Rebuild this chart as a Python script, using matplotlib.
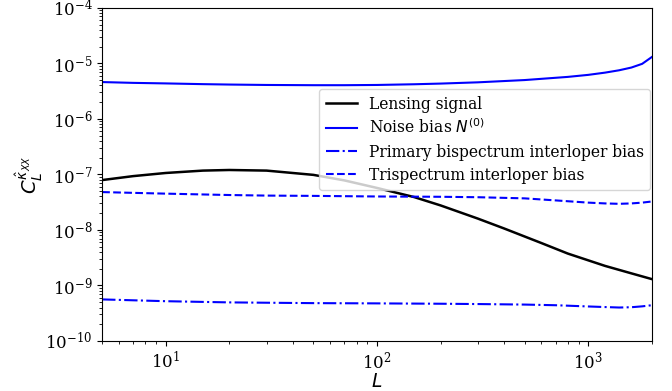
import matplotlib
matplotlib.use('Agg')
import matplotlib.pyplot as plt

plt.rcParams['font.family'] = 'DejaVu Serif'
plt.rcParams['mathtext.fontset'] = 'dejavusans'

# multipoles and spectra
L_noise = [5, 7, 10, 15, 20, 30, 50, 70, 100, 150, 200, 300, 500, 800, 1000, 1200, 1400, 1600, 1800, 2000]
noise = [4.6e-6, 4.45e-6, 4.35e-6, 4.22e-6, 4.15e-6, 4.08e-6, 4.04e-6, 4.04e-6, 4.08e-6, 4.2e-6, 4.32e-6,
         4.55e-6, 5.0e-6, 5.7e-6, 6.2e-6, 6.8e-6, 7.5e-6, 8.4e-6, 9.8e-6, 1.3e-5]

L_lens = [5, 7, 10, 15, 20, 30, 50, 70, 100, 150, 200, 300, 400, 600, 800, 1200, 1600, 2000]
lensing = [7.9e-8, 9.3e-8, 1.06e-7, 1.17e-7, 1.2e-7, 1.17e-7, 9.8e-8, 7.8e-8, 5.7e-8, 3.9e-8, 2.76e-8,
           1.6e-8, 1.06e-8, 5.8e-9, 3.75e-9, 2.25e-9, 1.65e-9, 1.3e-9]

L_bias = [5, 7, 10, 15, 20, 30, 50, 100, 200, 300, 500, 700, 1000, 1200, 1400, 1600, 1800, 2000]
bispec = [5.6e-10, 5.4e-10, 5.2e-10, 5.05e-10, 4.95e-10, 4.88e-10, 4.8e-10, 4.75e-10, 4.68e-10, 4.62e-10,
          4.52e-10, 4.4e-10, 4.18e-10, 4.08e-10, 4.0e-10, 4.05e-10, 4.2e-10, 4.4e-10]
trispec = [4.8e-8, 4.65e-8, 4.5e-8, 4.35e-8, 4.25e-8, 4.15e-8, 4.1e-8, 4.0e-8, 3.95e-8, 3.88e-8,
           3.7e-8, 3.4e-8, 3.1e-8, 3.0e-8, 2.95e-8, 3.0e-8, 3.1e-8, 3.25e-8]

fig = plt.figure(figsize=(6.72, 3.91), dpi=100)
ax = fig.add_axes([0.152, 0.128, 0.818, 0.852])

ax.loglog(L_lens, lensing, color='k', lw=1.8, label='Lensing signal')
ax.loglog(L_noise, noise, color='b', lw=1.5, label='Noise bias $N^{(0)}$')
ax.loglog(L_bias, bispec, color='b', lw=1.5, ls='-.', label='Primary bispectrum interloper bias')
ax.loglog(L_bias, trispec, color='b', lw=1.5, ls='--', label='Trispectrum interloper bias')

ax.set_xlim(5, 2000)
ax.set_ylim(1e-10, 1e-4)
ax.tick_params(labelsize=12)
ax.set_xlabel('$L$', fontsize=13.5, labelpad=0)
ax.set_ylabel(r'$C_L^{\hat{\kappa}_{XX}}$', fontsize=14, labelpad=0)
ax.legend(loc='upper right', bbox_to_anchor=(1.0, 0.76), borderaxespad=0.1, fontsize=11.2,
          labelspacing=0.4)

fig.savefig('out.png', dpi=100)
